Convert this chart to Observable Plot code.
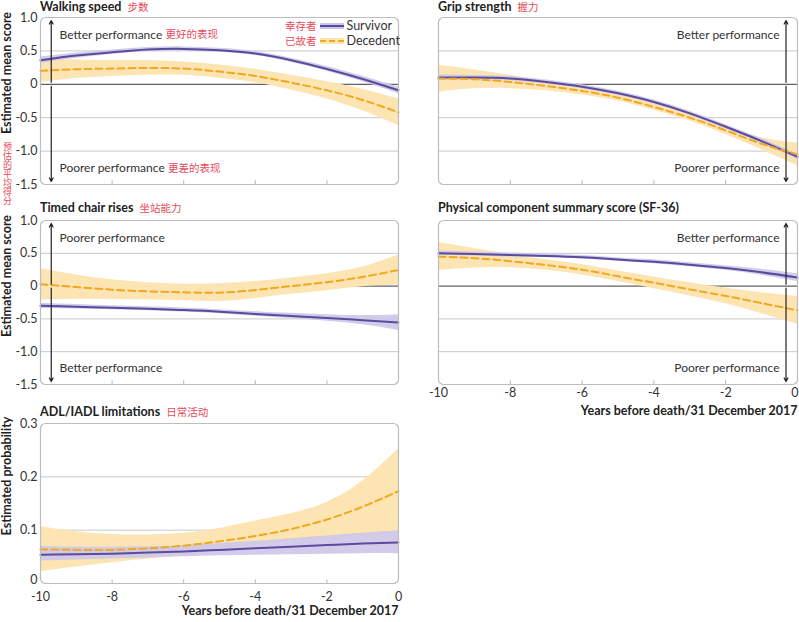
<!DOCTYPE html>
<html><head><meta charset="utf-8">
<script src="https://cdn.jsdelivr.net/npm/d3@7"></script>
<script src="https://cdn.jsdelivr.net/npm/@observablehq/plot@0.6"></script>
<style>
body{margin:0;background:#fff;font-family:Lato,"Noto Sans CJK SC",sans-serif;}
#chart{position:relative;width:799px;height:622px;overflow:hidden;background:#fff;}
.abs{position:absolute;}
.title{font-weight:bold;font-size:12.5px;line-height:14px;color:#222;white-space:nowrap;}
.zh{color:#e64a5a;font-weight:normal;font-size:10.5px;margin-left:6px;font-family:"Noto Sans CJK SC",sans-serif;}
.ylab{font-weight:bold;font-size:12.5px;color:#222;white-space:nowrap;transform:translate(-50%,-50%) rotate(-90deg);line-height:14px;}
.vzh{color:#e64a5a;font-size:9px;font-family:"Noto Sans CJK SC",sans-serif;writing-mode:vertical-rl;text-orientation:upright;line-height:12px;white-space:nowrap;}
.legend{font-size:12.5px;color:#333;line-height:15px;}
.legend .row{display:flex;align-items:center;height:15px;}
.legend .zh{margin-left:0;margin-right:3px;}
.legend svg{margin-right:3px;}
</style>
</head><body>
<div id="chart"></div>
<script>
// ---------- data ----------
const years = [-10,-9,-8,-7,-6,-5,-4,-3,-2,-1,0];
const xTicks = [-10,-8,-6,-4,-2,0];
const innerXTicks = [-8,-6,-4,-2];
const scoreTicks = [1.0,0.5,0,-0.5,-1.0,-1.5];
const probTicks = [0.3,0.2,0.1,0];

// Walking speed
const walkSurv   = [0.36,0.43,0.48,0.52,0.53,0.51,0.46,0.36,0.23,0.08,-0.09];
const walkSurvLo = [0.31,0.39,0.445,0.49,0.50,0.48,0.43,0.33,0.195,0.04,-0.14];
const walkSurvHi = [0.41,0.47,0.515,0.55,0.56,0.54,0.49,0.39,0.265,0.12,-0.04];
const walkDec    = [0.20,0.225,0.235,0.245,0.235,0.19,0.125,0.025,-0.09,-0.235,-0.42];
const walkDecLo  = [0.03,0.085,0.115,0.135,0.135,0.09,0.025,-0.085,-0.22,-0.395,-0.62];
const walkDecHi  = [0.37,0.365,0.355,0.355,0.335,0.29,0.225,0.135,0.04,-0.075,-0.22];

// Grip strength
const gripSurv   = [0.10,0.10,0.085,0.035,-0.035,-0.135,-0.265,-0.435,-0.635,-0.85,-1.085];
const gripSurvLo = [0.06,0.07,0.055,0.005,-0.065,-0.165,-0.295,-0.465,-0.665,-0.885,-1.125];
const gripSurvHi = [0.14,0.13,0.115,0.065,-0.005,-0.105,-0.235,-0.405,-0.605,-0.815,-1.045];
const gripDec    = [0.085,0.075,0.035,-0.025,-0.10,-0.20,-0.34,-0.50,-0.69,-0.89,-1.05];
const gripDecLo  = [-0.115,-0.065,-0.065,-0.095,-0.16,-0.25,-0.39,-0.55,-0.75,-0.98,-1.22];
const gripDecHi  = [0.285,0.215,0.135,0.045,-0.04,-0.15,-0.29,-0.45,-0.63,-0.80,-0.88];

// Timed chair rises
const chairSurv   = [-0.30,-0.315,-0.33,-0.345,-0.365,-0.39,-0.425,-0.455,-0.485,-0.52,-0.555];
const chairSurvLo = [-0.34,-0.35,-0.36,-0.375,-0.395,-0.42,-0.46,-0.495,-0.535,-0.59,-0.675];
const chairSurvHi = [-0.26,-0.28,-0.30,-0.315,-0.335,-0.36,-0.39,-0.415,-0.435,-0.45,-0.435];
const chairDec    = [0.03,-0.015,-0.055,-0.08,-0.095,-0.10,-0.06,0.0,0.06,0.14,0.245];
const chairDecLo  = [-0.21,-0.20,-0.205,-0.21,-0.22,-0.235,-0.19,-0.125,-0.07,-0.01,0.015];
const chairDecHi  = [0.27,0.17,0.095,0.05,0.03,0.035,0.07,0.125,0.19,0.29,0.475];

// Physical component summary score (SF-36)
const pcsSurv   = [0.50,0.49,0.475,0.46,0.44,0.405,0.37,0.325,0.275,0.21,0.13];
const pcsSurvLo = [0.465,0.46,0.445,0.435,0.415,0.38,0.34,0.295,0.24,0.165,0.07];
const pcsSurvHi = [0.535,0.52,0.505,0.485,0.465,0.43,0.40,0.355,0.31,0.255,0.19];
const pcsDec    = [0.45,0.425,0.38,0.32,0.25,0.15,0.05,-0.05,-0.15,-0.26,-0.37];
const pcsDecLo  = [0.24,0.275,0.28,0.24,0.17,0.07,-0.04,-0.15,-0.27,-0.42,-0.58];
const pcsDecHi  = [0.66,0.575,0.48,0.40,0.33,0.23,0.14,0.05,-0.03,-0.10,-0.16];

// ADL/IADL limitations
const adlSurv   = [0.054,0.055,0.056,0.058,0.060,0.063,0.066,0.069,0.072,0.075,0.077];
const adlSurvLo = [0.042,0.044,0.046,0.048,0.050,0.052,0.053,0.054,0.055,0.056,0.056];
const adlSurvHi = [0.070,0.068,0.068,0.069,0.071,0.075,0.079,0.084,0.089,0.094,0.099];
const adlDec    = [0.064,0.063,0.063,0.066,0.071,0.079,0.089,0.102,0.120,0.144,0.173];
const adlDecLo  = [0.022,0.031,0.039,0.046,0.052,0.062,0.072,0.080,0.085,0.090,0.094];
const adlDecHi  = [0.107,0.097,0.092,0.091,0.094,0.103,0.117,0.131,0.152,0.192,0.252];

// ---------- styling ----------
const C = {surv:"#5a4b9e", survBand:"#cdc6e8", dec:"#f0a820", decBand:"#fde4b3", zh:"#e64a5a"};
const FONT = "Lato, 'Noto Sans CJK SC', sans-serif";
const ctx = document.createElement("canvas").getContext("2d");
function textW(t, size, weight="normal"){ ctx.font = `${weight} ${size}px Lato`; return ctx.measureText(t).width; }
const fmtScore = d => d === 0 ? "0" : d.toFixed(1);
const fmtProb = d => d === 0 ? "0" : d.toFixed(1);

const chart = document.getElementById("chart");

function panel(o){
  const rows = years.map((x,i)=>({x, s:o.surv[i], sLo:o.survLo[i], sHi:o.survHi[i], d:o.dec[i], dLo:o.decLo[i], dHi:o.decHi[i]}));
  const [y0,y1] = o.yDomain; const span = y1 - y0;
  const marks = [];
  // grid
  marks.push(Plot.ruleY(o.yTicks.filter(t => t !== 0 && t !== y0 && t !== y1), {stroke:"#c9c9c9", strokeWidth:1}));
  if (o.zeroLine) marks.push(Plot.ruleY([0], {stroke:"#3a3a3a", strokeWidth:1}));
  // bands and lines
  marks.push(Plot.areaY(rows, {x:"x", y1:"dLo", y2:"dHi", fill:C.decBand, curve:"natural"}));
  marks.push(Plot.areaY(rows, {x:"x", y1:"sLo", y2:"sHi", fill:C.survBand, fillOpacity:0.9, curve:"natural"}));
  marks.push(Plot.lineY(rows, {x:"x", y:"s", stroke:C.surv, strokeWidth:2, curve:"natural"}));
  marks.push(Plot.lineY(rows, {x:"x", y:"d", stroke:C.dec, strokeWidth:2, strokeDasharray:"7,4", curve:"natural"}));
  // inner x ticks
  marks.push(Plot.ruleX(innerXTicks, {y1:y0, y2:y0 + span*0.022, stroke:"#b5b5b5"}));
  // arrows
  if (o.arrowX !== undefined){
    const gap = span*0.012, tip = span*0.018;
    marks.push(Plot.arrow([{x:o.arrowX, a:gap, b:y1 - tip},{x:o.arrowX, a:-gap, b:y0 + tip}],
      {x1:"x", x2:"x", y1:"a", y2:"b", stroke:"#222", strokeWidth:1.2, headLength:5, headAngle:55}));
  }
  // performance texts
  if (o.topText){
    const right = o.textSide === "right";
    const base = {frameAnchor: right ? "top-right":"top-left", textAnchor: right ? "end":"start", fontSize:12, fill:"#333", dy:13, fontFamily:FONT};
    marks.push(Plot.text([o.topText], {...base, dx: right ? -18 : 19}));
    marks.push(Plot.text([o.bottomText], {...base, frameAnchor: right ? "bottom-right":"bottom-left", dy:-13, dx: right ? -18 : 19}));
    if (o.topZh){
      marks.push(Plot.text([o.topZh], {frameAnchor:"top-left", textAnchor:"start", fontSize:10.5, fill:C.zh, dy:13, dx:19 + textW(o.topText,12) + 3}));
      marks.push(Plot.text([o.bottomZh], {frameAnchor:"bottom-left", textAnchor:"start", fontSize:10.5, fill:C.zh, dy:-13, dx:19 + textW(o.bottomText,12) + 3}));
    }
  }
  // axes
  if (o.showY){
    const yAxisOpts = {tickSize:0, tickPadding:3, tickFormat:o.fmt, label:null, fontSize:12.5, fill:"#333"};
    if (o.showX){
      // lowest label lifted slightly so it clears the first x label
      marks.push(Plot.axisY({...yAxisOpts, ticks:o.yTicks.filter(t => t !== y0)}));
      marks.push(Plot.axisY({...yAxisOpts, ticks:[y0], dy:-3.5}));
    } else {
      marks.push(Plot.axisY({...yAxisOpts, ticks:o.yTicks}));
    }
  }
  if (o.showX){
    const edge = o.left > 0; // right column: keep the last label inside the picture
    marks.push(Plot.axisX({ticks: edge ? xTicks.slice(0,-1) : xTicks, tickSize:0, tickPadding:o.xPad, tickFormat:d=>String(d), label:null, fontSize:12.5, fill:"#333"}));
    if (edge) marks.push(Plot.axisX({ticks:xTicks.slice(-1), tickSize:0, tickPadding:o.xPad, tickFormat:d=>String(d), label:null, fontSize:12.5, fill:"#333", textAnchor:"end", dx:1}));
    marks.push(Plot.text(["Years before death/31 December 2017"], {frameAnchor:"bottom-right", textAnchor:"end", dy:o.titleDy, dx:0, fontWeight:"bold", fontSize:12.5, fill:"#222"}));
  }
  marks.push(Plot.frame({stroke:"#bdbdbd", rx:5, strokeWidth:1.2}));
  const svg = Plot.plot({
    width:o.width, height:o.height,
    marginLeft:o.ml, marginRight:2, marginTop:o.mt, marginBottom:o.mb,
    x:{domain:[-10,0], axis: o.showX ? undefined : null},
    y:{domain:o.yDomain, axis: o.showY ? undefined : null},
    style:{fontFamily:FONT, fontSize:"12px", color:"#333", background:"transparent", overflow:"visible"},
    marks
  });
  svg.style.position = "absolute"; svg.style.left = o.left + "px"; svg.style.top = o.top + "px";
  chart.appendChild(svg);
}

function addDiv(cls, html, style){
  const d = document.createElement("div"); d.className = "abs " + cls; d.innerHTML = html;
  Object.assign(d.style, style); chart.appendChild(d); return d;
}

// panels
panel({surv:walkSurv, survLo:walkSurvLo, survHi:walkSurvHi, dec:walkDec, decLo:walkDecLo, decHi:walkDecHi,
  yDomain:[-1.5,1.0], yTicks:scoreTicks, fmt:fmtScore, zeroLine:true, showY:true, showX:false,
  arrowX:-9.7, textSide:"left", topText:"Better performance", bottomText:"Poorer performance", topZh:"更好的表现", bottomZh:"更差的表现",
  left:0, top:14, width:400, height:178, ml:40, mt:3, mb:8});
panel({surv:gripSurv, survLo:gripSurvLo, survHi:gripSurvHi, dec:gripDec, decLo:gripDecLo, decHi:gripDecHi,
  yDomain:[-1.5,1.0], yTicks:scoreTicks, fmt:fmtScore, zeroLine:true, showY:false, showX:false,
  arrowX:-0.32, textSide:"right", topText:"Better performance", bottomText:"Poorer performance",
  left:400, top:14, width:399, height:178, ml:38, mt:3, mb:8});
panel({surv:chairSurv, survLo:chairSurvLo, survHi:chairSurvHi, dec:chairDec, decLo:chairDecLo, decHi:chairDecHi,
  yDomain:[-1.5,1.0], yTicks:scoreTicks, fmt:fmtScore, zeroLine:true, showY:true, showX:false,
  arrowX:-9.7, textSide:"left", topText:"Poorer performance", bottomText:"Better performance",
  left:0, top:216, width:400, height:176, ml:40, mt:4, mb:8});
panel({surv:pcsSurv, survLo:pcsSurvLo, survHi:pcsSurvHi, dec:pcsDec, decLo:pcsDecLo, decHi:pcsDecHi,
  yDomain:[-1.5,1.0], yTicks:scoreTicks, fmt:fmtScore, zeroLine:true, showY:false, showX:true, xPad:4, titleDy:30,
  arrowX:-0.32, textSide:"right", topText:"Better performance", bottomText:"Poorer performance",
  left:400, top:216, width:399, height:206, ml:38, mt:4, mb:38});
panel({surv:adlSurv, survLo:adlSurvLo, survHi:adlSurvHi, dec:adlDec, decLo:adlDecLo, decHi:adlDecHi,
  yDomain:[0,0.3], yTicks:probTicks, fmt:fmtProb, zeroLine:false, showY:true, showX:true, xPad:8.5, titleDy:31.5,
  left:0, top:419, width:400, height:202, ml:40, mt:4, mb:38});

// titles
addDiv("title", 'Walking speed<span class="zh">步数</span>', {left:"40px", top:"0px"});
addDiv("title", 'Grip strength<span class="zh">握力</span>', {left:"438px", top:"0px"});
addDiv("title", 'Timed chair rises<span class="zh">坐站能力</span>', {left:"40px", top:"201px"});
addDiv("title", 'Physical component summary score (SF-36)', {left:"438px", top:"201px"});
addDiv("title", 'ADL/IADL limitations<span class="zh">日常活动</span>', {left:"40px", top:"405px"});

// y labels
addDiv("ylab", "Estimated mean score", {left:"7px", top:"73px"});
addDiv("vzh", "预估的平均得分", {left:"1px", top:"142px"});
addDiv("ylab", "Estimated mean score", {left:"7px", top:"276px"});
addDiv("ylab", "Estimated probability", {left:"7px", top:"476px"});

// legend
const sw = (line, band, dash) => `<svg width="24" height="10"><rect x="0" y="2" width="24" height="6" fill="${band}"/><line x1="0" x2="24" y1="5" y2="5" stroke="${line}" stroke-width="2" ${dash ? 'stroke-dasharray="6,3"' : ''}/></svg>`;
addDiv("legend",
  `<div class="row"><span class="zh">幸存者</span>${sw(C.surv, C.survBand, false)}<span>Survivor</span></div>` +
  `<div class="row"><span class="zh">已故者</span>${sw(C.dec, C.decBand, true)}<span>Decedent</span></div>`,
  {left:"285px", top:"18px"});
</script>
</body></html>
